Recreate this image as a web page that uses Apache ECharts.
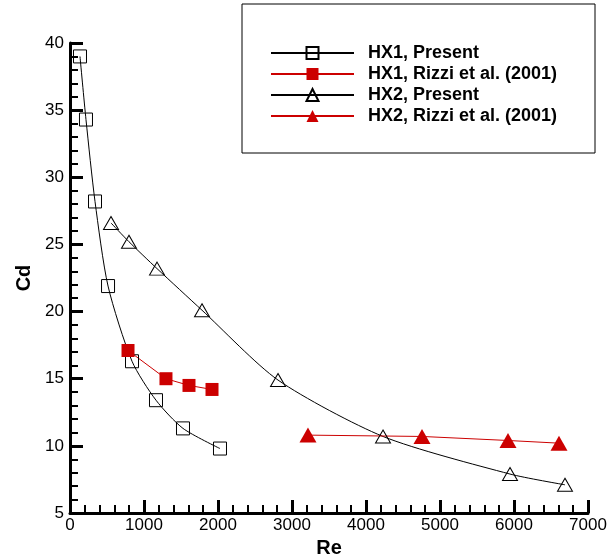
<!DOCTYPE html>
<html>
<head>
<meta charset="utf-8">
<script src="https://cdn.jsdelivr.net/npm/echarts@6/dist/echarts.min.js"></script>
<style>
  html, body { margin: 0; padding: 0; background: #fff; }
  #chart { width: 610px; height: 556px; }
</style>
</head>
<body>
<div id="chart"></div>
<script>
// values
const hx1PresentRe = [135, 216, 338, 514, 838, 1162, 1527, 2027]
const hx1PresentCd = [39.0, 34.3, 28.2, 21.9, 16.3, 13.4, 11.3, 9.8]
const hx1RizziRe = [784, 1297, 1608, 1919]
const hx1RizziCd = [17.1, 15.0, 14.5, 14.2]
const hx2PresentRe = [554, 797, 1176, 1784, 2811, 4230, 5946, 6689]
const hx2PresentCd = [26.6, 25.2, 23.2, 20.1, 14.9, 10.7, 7.9, 7.1]
const hx2RizziRe = [3216, 4757, 5919, 6608]
const hx2RizziCd = [10.8, 10.7, 10.4, 10.2]

const seriesNames = ['HX1, Present', 'HX1, Rizzi et al. (2001)', 'HX2, Present', 'HX2, Rizzi et al. (2001)']

const red = '#cc0000'
const font = 'Liberation Sans, Arial, sans-serif'

const pairs = (xs, ys) => xs.map((x, i) => [x, ys[i]])

const chart = echarts.init(document.getElementById('chart'))

const axisCommon = {
  axisLine: { show: true, lineStyle: { color: '#000', width: 3 } },
  axisTick: { show: true, inside: true, length: 13, lineStyle: { color: '#000', width: 3 } },
  minorTick: { show: true, splitNumber: 5, length: 8, lineStyle: { color: '#000', width: 2 } },
  splitLine: { show: false },
  axisLabel: { color: '#000', fontSize: 17, fontFamily: font, formatter: (v) => String(v) },
  nameLocation: 'middle',
  nameTextStyle: { color: '#000', fontSize: 20, fontWeight: 'bold', fontFamily: font }
}

const option = {
  animation: false,
  grid: { left: 70, right: 22, top: 43, bottom: 43, outerBoundsMode: 'none', containLabel: false },
  xAxis: {
    ...axisCommon,
    type: 'value',
    min: 0, max: 7000, interval: 1000,
    name: 'Re',
    nameGap: 23,
    axisLabel: { ...axisCommon.axisLabel, margin: 4 }
  },
  yAxis: {
    ...axisCommon,
    type: 'value',
    min: 5, max: 40, interval: 5,
    name: 'Cd',
    nameGap: 34,
    axisLabel: { ...axisCommon.axisLabel, margin: 6 }
  },
  legend: {
    orient: 'vertical',
    left: 265,
    top: 39,
    itemWidth: 83,
    itemHeight: 15,
    itemGap: 3,
    textStyle: { color: '#000', fontSize: 18, fontWeight: 'bold', fontFamily: font, padding: [0, 0, 0, 9] },
    data: seriesNames
  },
  graphic: [{
    type: 'rect',
    shape: { x: 242, y: 4, width: 353, height: 149 },
    style: { fill: 'none', stroke: '#000', lineWidth: 1 },
    z: 100
  }],
  series: [
    {
      name: seriesNames[0],
      type: 'line',
      smooth: 0.25,
      data: pairs(hx1PresentRe, hx1PresentCd),
      symbol: 'rect',
      symbolSize: 13,
      lineStyle: { color: '#000', width: 1 },
      itemStyle: { color: 'rgba(255,255,255,0)', borderColor: '#000', borderWidth: 1 }
    },
    {
      name: seriesNames[1],
      type: 'line',
      data: pairs(hx1RizziRe, hx1RizziCd),
      symbol: 'rect',
      symbolSize: 13,
      lineStyle: { color: red, width: 1 },
      itemStyle: { color: red, borderColor: red, borderWidth: 0 }
    },
    {
      name: seriesNames[2],
      type: 'line',
      smooth: 0.25,
      data: pairs(hx2PresentRe, hx2PresentCd),
      symbol: 'triangle',
      symbolSize: [15, 13],
      lineStyle: { color: '#000', width: 1 },
      itemStyle: { color: 'rgba(255,255,255,0)', borderColor: '#000', borderWidth: 1 }
    },
    {
      name: seriesNames[3],
      type: 'line',
      data: pairs(hx2RizziRe, hx2RizziCd),
      symbol: 'triangle',
      symbolSize: [17, 15],
      lineStyle: { color: red, width: 1 },
      itemStyle: { color: red, borderColor: red, borderWidth: 0 }
    }
  ]
}

chart.setOption(option)
</script>
</body>
</html>
